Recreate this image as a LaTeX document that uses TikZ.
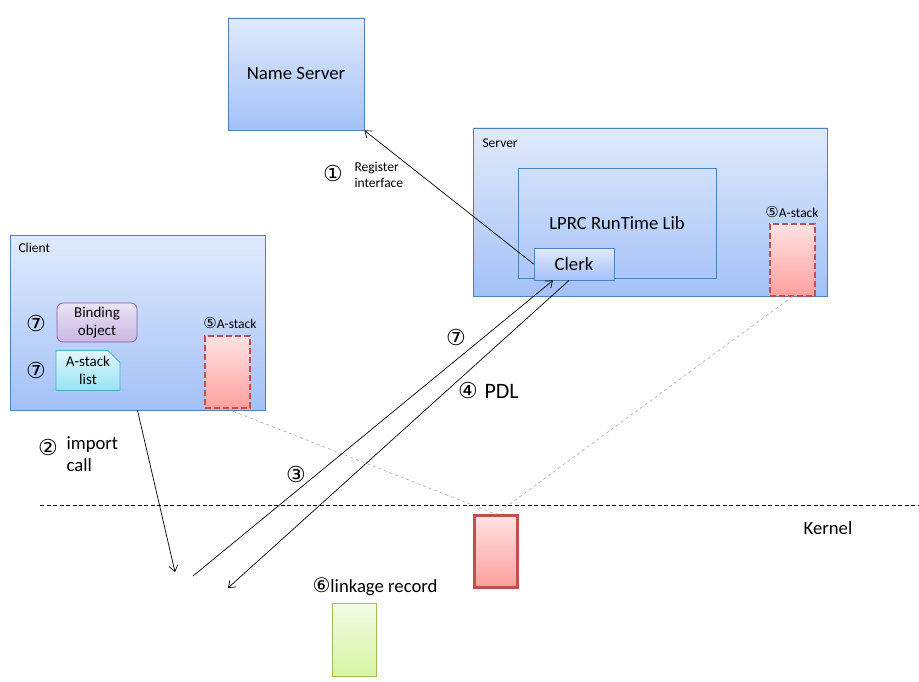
\documentclass[tikz,border=0pt]{standalone}
\usepackage{fontspec}
\setmainfont{Carlito}
\newfontfamily\numfont{DejaVu Sans}
\usetikzlibrary{shapes.misc,calc,arrows.meta}
\definecolor{blueline}{RGB}{79,129,189}
\definecolor{bluetop}{RGB}{224,234,252}
\definecolor{bluebot}{RGB}{163,193,248}
\definecolor{redline}{RGB}{192,80,77}
\definecolor{redtop}{RGB}{255,226,226}
\definecolor{redbot}{RGB}{254,160,158}
\definecolor{greenline}{RGB}{155,187,89}
\definecolor{greentop}{RGB}{243,251,230}
\definecolor{greenbot}{RGB}{214,245,160}
\definecolor{purpleline}{RGB}{128,100,162}
\definecolor{purpletop}{RGB}{236,228,245}
\definecolor{purplebot}{RGB}{200,182,228}
\definecolor{cyanline}{RGB}{75,172,198}
\definecolor{cyantop}{RGB}{226,247,252}
\definecolor{cyanbot}{RGB}{150,228,246}
\tikzset{
  bigtxt/.style={font=\fontsize{18.7}{22}\selectfont},
  midtxt/.style={font=\fontsize{15}{17.5}\selectfont},
  smalltxt/.style={font=\fontsize{13.5}{16}\selectfont},
  numtxt/.style={font=\numfont\fontsize{22}{24}\selectfont},
  bluebox/.style={draw=blueline,line width=0.8pt,top color=bluetop,bottom color=bluebot,inner sep=0pt},
  plainbox/.style={draw=blueline,line width=0.8pt,inner sep=0pt},
  stackbox/.style={draw=redline,line width=2pt,dash pattern=on 6pt off 3pt,top color=redtop,bottom color=redbot,minimum width=45pt,minimum height=72pt,inner sep=0pt},
  flow/.style={-{Straight Barb[length=6pt,width=9pt]},line width=0.7pt},
  ghost/.style={gray!60,dashed,line width=0.7pt}
}
\newcommand\smallnum[1]{{\numfont\fontsize{15}{16}\selectfont #1}}
\begin{document}
\begin{tikzpicture}[x=1pt,y=-1pt]
\useasboundingbox (0,0) rectangle (919,682);

\node[bluebox,bigtxt,minimum width=136pt,minimum height=112pt] (nameserver) at (296,74) {Name Server};

\node[bluebox,minimum width=354pt,minimum height=168pt] (server) at (650,212) {};
\node[smalltxt,anchor=west] (serverlbl) at (479,143) {Server};
\node[plainbox,bigtxt,minimum width=198pt,minimum height=110pt] (runtime) at (617,223) {LPRC RunTime Lib};
\node[bluebox,bigtxt,minimum width=80pt,minimum height=32pt] (clerk) at (574,264) {Clerk};
\node[stackbox] (sstack) at (792.5,259.5) {};
\node[smalltxt] (sstacklbl) at (792,212) {\smallnum{⑤}A-stack};

\node[bluebox,minimum width=255pt,minimum height=175pt] (client) at (137.5,322.5) {};
\node[smalltxt,anchor=west] (clientlbl) at (15,248) {Client};
\node[draw=purpleline,line width=0.8pt,top color=purpletop,bottom color=purplebot,rounded corners=6pt,
  minimum width=80pt,minimum height=39pt,inner sep=0pt,midtxt,align=center] (binding) at (97,322.5) {Binding\\object};
\node[draw=cyanline,line width=0.8pt,top color=cyantop,bottom color=cyanbot,chamfered rectangle,
  chamfered rectangle corners=north east,chamfered rectangle xsep=6pt,chamfered rectangle ysep=6pt,
  minimum width=64pt,minimum height=37pt,inner sep=0pt,midtxt,align=center] (alist) at (88,370.5) {A-stack\\list};
\node[numtxt] (seven1) at (36,323) {⑦};
\node[numtxt] (seven2) at (36,370) {⑦};
\node[stackbox] (cstack) at (227.5,372) {};
\node[smalltxt] (cstacklbl) at (230,323) {\smallnum{⑤}A-stack};

\coordinate (kl) at (40,505);
\coordinate (kr) at (919,505);
\draw[dashed,line width=0.8pt,dash pattern=on 4pt off 2.5pt] (kl) -- (kr);
\node[bigtxt] (kernel) at (828,528) {Kernel};
\node[draw=redline,line width=2.6pt,top color=redtop,bottom color=redbot,minimum width=43pt,minimum height=72pt,inner sep=0pt] (kbox) at (496,551.5) {};
\node[draw=greenline,line width=0.8pt,top color=greentop,bottom color=greenbot,minimum width=44pt,minimum height=73pt,inner sep=0pt] (linkage) at (354,639.5) {};
\node[bigtxt] (linklbl) at (375,587) {{\numfont\fontsize{20}{22}\selectfont ⑥}linkage record};

\draw[ghost] (cstack.south) -- (kbox.north);
\draw[ghost] (sstack.south) -- (kbox.north);

\draw[flow] (clerk.west) -- (nameserver.south east);
\node[numtxt] (one) at (333,173) {①};
\node[smalltxt,anchor=west,align=left] (reglbl) at (351,175) {Register\\interface};

\coordinate (callend) at (175,572);
\draw[flow] (client.south) -- (callend);
\node[numtxt] (two) at (48,447) {②};
\node[bigtxt,anchor=west,align=left] (calllbl) at (63,454) {import\\call};

\coordinate (trapfrom) at (193,576);
\draw[flow] (trapfrom) -- ($(clerk.south)+(-21,0)$);
\node[numtxt] (three) at (296,474) {③};
\node[numtxt] (seven3) at (456,337) {⑦};

\coordinate (pdlend) at (228,588);
\draw[flow] ($(clerk.south)+(-5,0)$) -- (pdlend);
\node[numtxt] (four) at (468,390) {④};
\node[font=\fontsize{22}{26}\selectfont,anchor=west] (pdl) at (481,391) {PDL};
\end{tikzpicture}
\end{document}
